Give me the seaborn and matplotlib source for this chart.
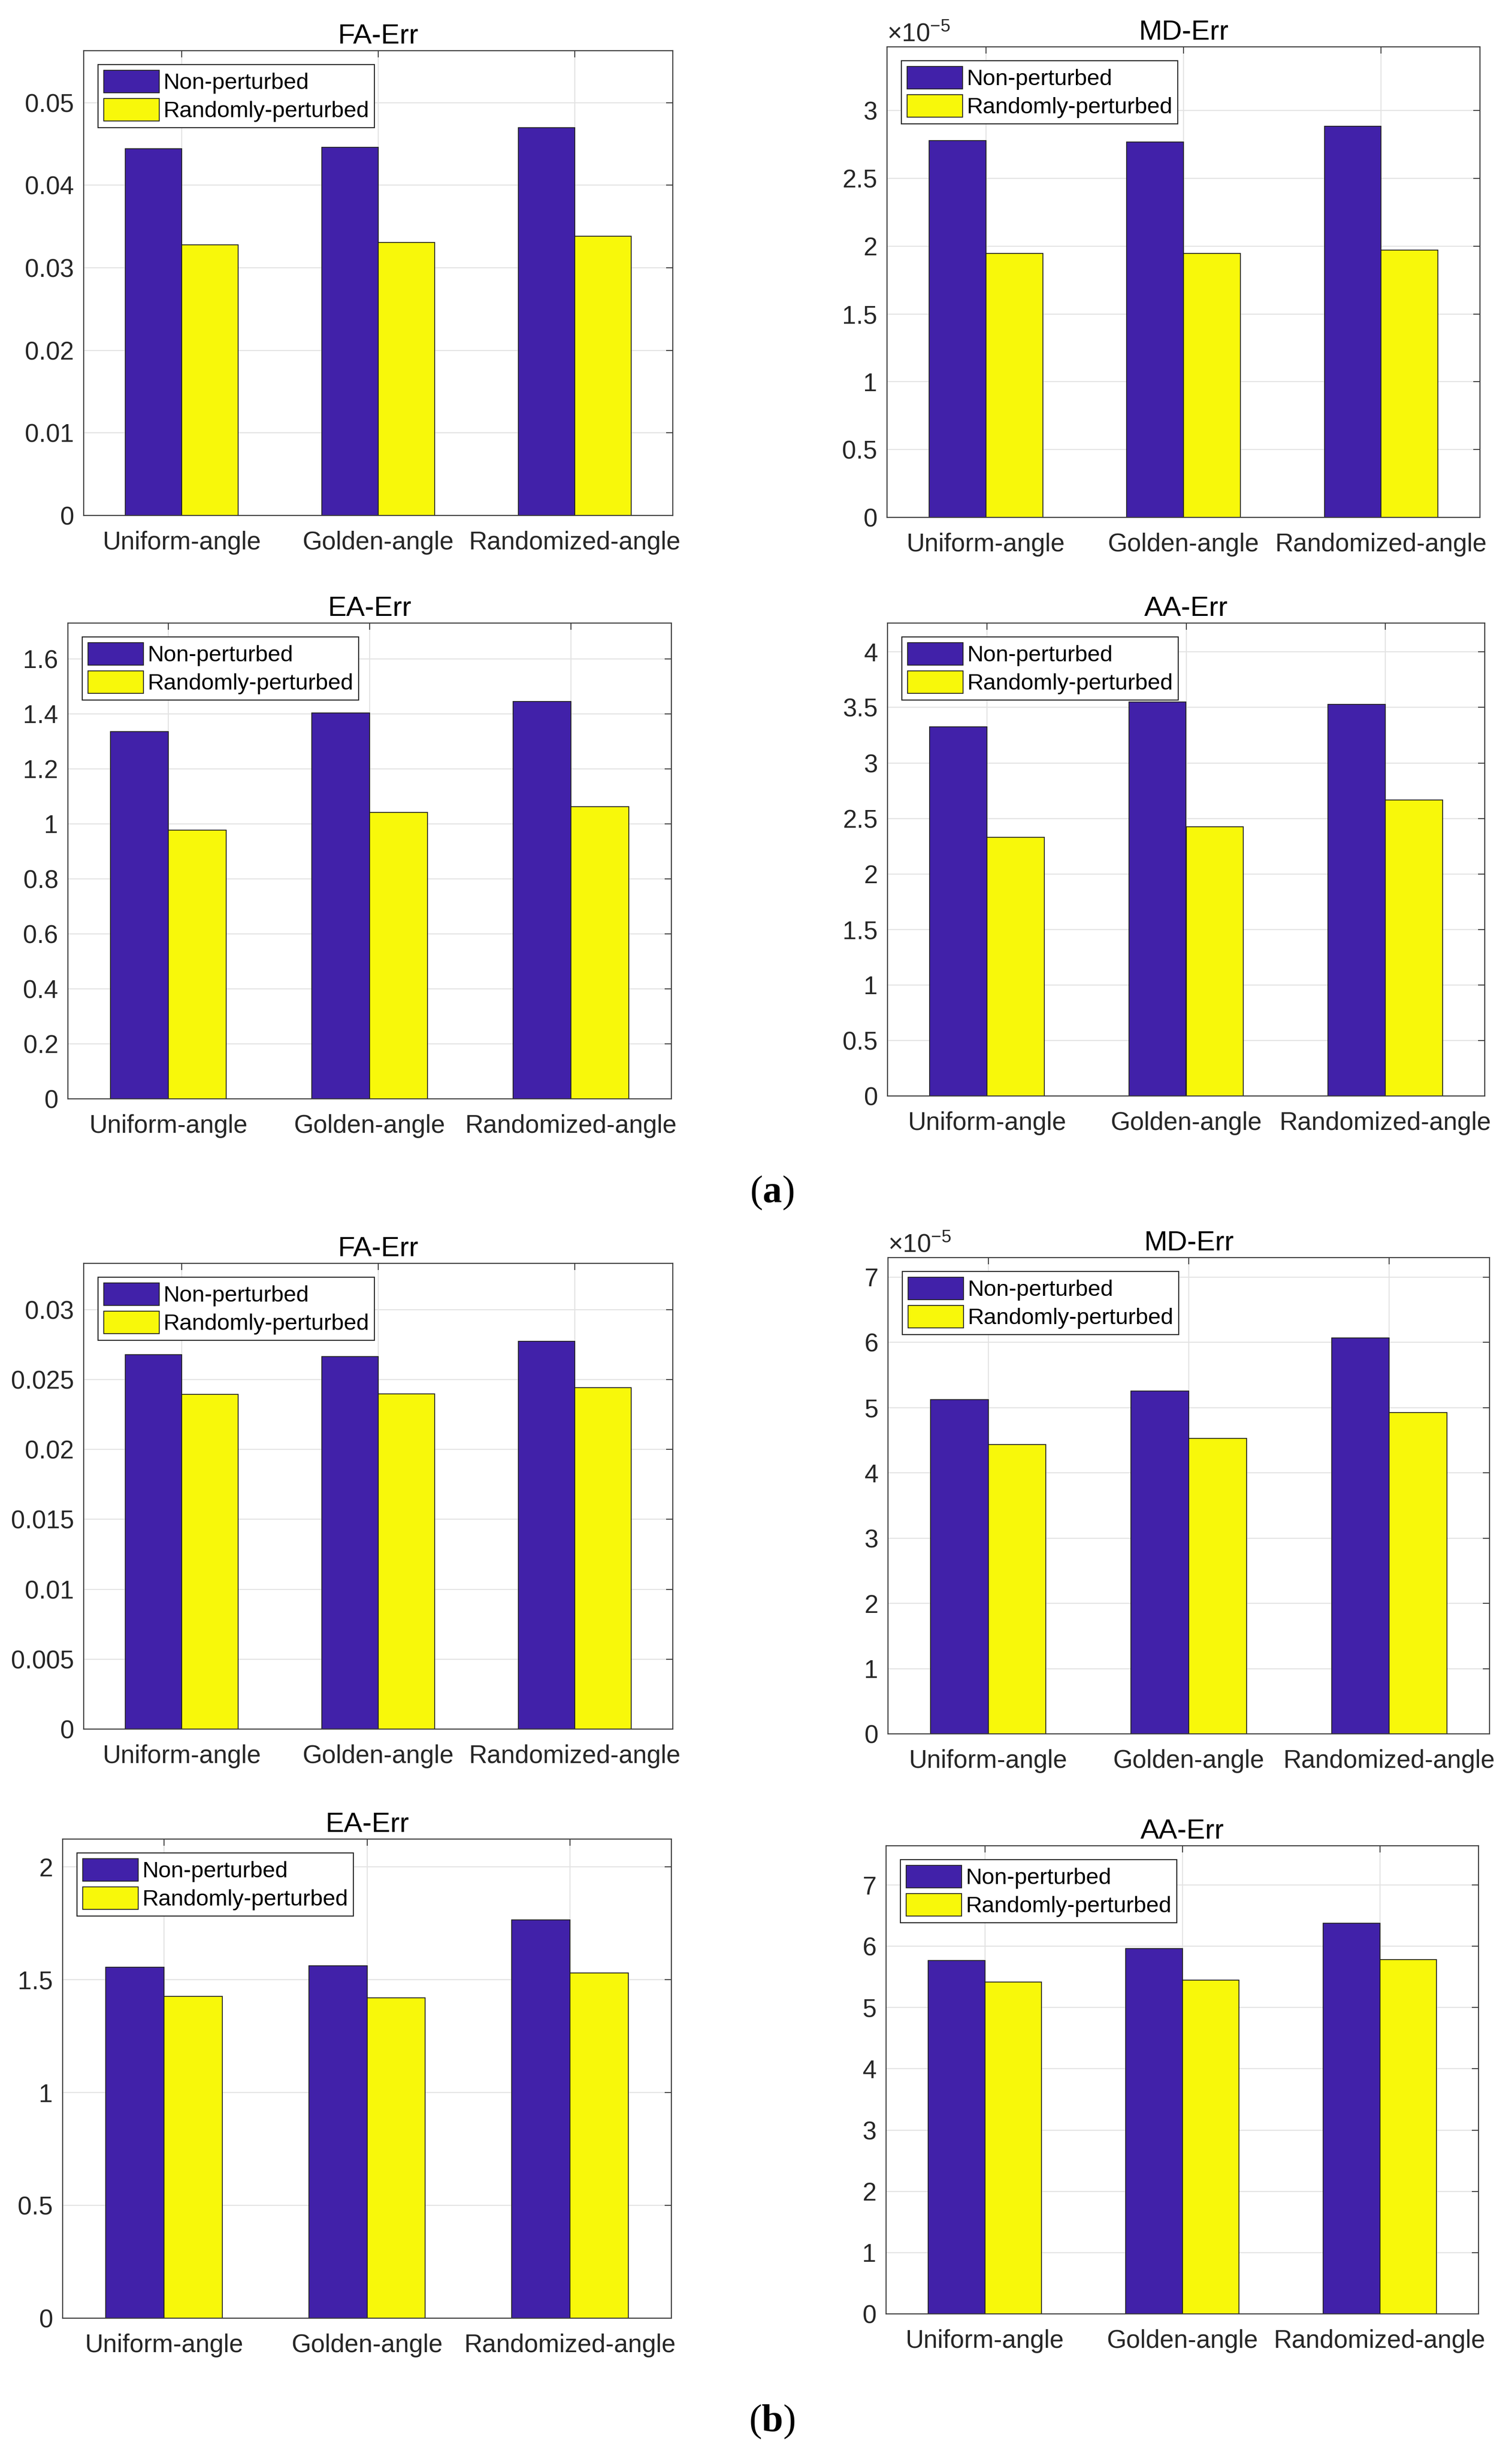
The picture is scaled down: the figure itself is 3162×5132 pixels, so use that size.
import numpy as np
import pandas as pd
import matplotlib
matplotlib.use("Agg")
import matplotlib.pyplot as plt
import seaborn as sns
from matplotlib.patches import Patch
from matplotlib.ticker import FuncFormatter

# ---------------- data ----------------
categories = ["Uniform-angle", "Golden-angle", "Randomized-angle"]
series = ["Non-perturbed", "Randomly-perturbed"]

a_fa_non = [0.0444, 0.0446, 0.0470]
a_fa_rnd = [0.0328, 0.0331, 0.0338]
a_md_non = [2.778e-5, 2.770e-5, 2.886e-5]
a_md_rnd = [1.946e-5, 1.946e-5, 1.970e-5]
a_ea_non = [1.335, 1.403, 1.445]
a_ea_rnd = [0.977, 1.042, 1.063]
a_aa_non = [3.327, 3.548, 3.527]
a_aa_rnd = [2.330, 2.423, 2.668]

b_fa_non = [0.02677, 0.02664, 0.02772]
b_fa_rnd = [0.02393, 0.02398, 0.02440]
b_md_non = [5.123e-5, 5.253e-5, 6.070e-5]
b_md_rnd = [4.436e-5, 4.531e-5, 4.926e-5]
b_ea_non = [1.555, 1.561, 1.765]
b_ea_rnd = [1.425, 1.419, 1.529]
b_aa_non = [5.769, 5.963, 6.378]
b_aa_rnd = [5.416, 5.444, 5.783]

titles = ["FA-Err", "MD-Err", "EA-Err", "AA-Err"]
fa_a_ticks = [0, 0.01, 0.02, 0.03, 0.04, 0.05]
md_a_ticks = [0, 0.5e-5, 1e-5, 1.5e-5, 2e-5, 2.5e-5, 3e-5]
ea_a_ticks = [0, 0.2, 0.4, 0.6, 0.8, 1.0, 1.2, 1.4, 1.6]
aa_a_ticks = [0, 0.5, 1, 1.5, 2, 2.5, 3, 3.5, 4]
fa_b_ticks = [0, 0.005, 0.01, 0.015, 0.02, 0.025, 0.03]
md_b_ticks = [0, 1e-5, 2e-5, 3e-5, 4e-5, 5e-5, 6e-5, 7e-5]
ea_b_ticks = [0, 0.5, 1, 1.5, 2]
aa_b_ticks = [0, 1, 2, 3, 4, 5, 6, 7]

# ---------------- style ----------------
sns.set_theme(style="white")
plt.rcParams['font.family'] = ['Liberation Sans', 'DejaVu Sans']
plt.rcParams['mathtext.fontset'] = 'custom'
plt.rcParams['mathtext.rm'] = 'Liberation Sans'
plt.rcParams['mathtext.it'] = 'Liberation Sans:italic'
plt.rcParams['mathtext.bf'] = 'Liberation Serif:bold'

BLUE = '#4121A9'
YELLOW = '#F8F80A'
AXC = '#3a3a3a'
TXT = '#262626'

W, H = 3162, 5132
DPI = 100
fig = plt.figure(figsize=(W / DPI, H / DPI), dpi=DPI)
fig.patch.set_facecolor('white')

# panel rectangles in pixels: left, right, top, bottom
panels = [
    ("FA-Err", a_fa_non, a_fa_rnd, 0.0563, fa_a_ticks, 1.0, (175, 1407, 106, 1078)),
    ("MD-Err", a_md_non, a_md_rnd, 3.47e-5, md_a_ticks, 1e-5, (1855, 3095, 98, 1082)),
    ("EA-Err", a_ea_non, a_ea_rnd, 1.73, ea_a_ticks, 1.0, (142, 1404, 1303, 2298)),
    ("AA-Err", a_aa_non, a_aa_rnd, 4.26, aa_a_ticks, 1.0, (1856, 3105, 1303, 2292)),
    ("FA-Err", b_fa_non, b_fa_rnd, 0.0333, fa_b_ticks, 1.0, (175, 1407, 2642, 3616)),
    ("MD-Err", b_md_non, b_md_rnd, 7.3e-5, md_b_ticks, 1e-5, (1857, 3115, 2630, 3626)),
    ("EA-Err", b_ea_non, b_ea_rnd, 2.123, ea_b_ticks, 1.0, (131, 1404, 3846, 4848)),
    ("AA-Err", b_aa_non, b_aa_rnd, 7.64, aa_b_ticks, 1.0, (1853, 3092, 3860, 4839)),
]

for title, non, rnd, ytop, ticks, scale, (L, R, T, B) in panels:
    ax = fig.add_axes([L / W, 1 - B / H, (R - L) / W, (B - T) / H])
    df = pd.DataFrame({
        "category": categories * 2,
        "series": [series[0]] * 3 + [series[1]] * 3,
        "value": list(non) + list(rnd),
    })
    sns.barplot(data=df, x="category", y="value", hue="series",
                order=categories, hue_order=series,
                palette=[BLUE, YELLOW], saturation=1, width=0.575, gap=0,
                edgecolor='#202020', linewidth=1.3, errorbar=None,
                legend=False, ax=ax)
    ax.set_xlim(-0.5, 2.5)
    ax.set_ylim(0, ytop)
    ax.set_xticks(range(len(categories)))
    ax.set_xticklabels(categories)
    ax.set_yticks(ticks)
    ax.yaxis.set_major_formatter(FuncFormatter(lambda v, p, s=scale: f"{round(v / s, 6):g}"))
    ax.set_xlabel("")
    ax.set_ylabel("")
    ax.set_axisbelow(True)
    ax.grid(True, axis='both', color='#E3E3E3', linewidth=1.6)
    for sp in ax.spines.values():
        sp.set_visible(True)
        sp.set_color(AXC)
        sp.set_linewidth(1.6)
    ax.tick_params(axis='both', direction='in', length=10, width=1.4, color=AXC,
                   top=True, right=True, labelsize=38, labelcolor=TXT)
    ax.tick_params(axis='y', pad=14.5)
    ax.tick_params(axis='x', pad=23)
    ax.set_title(title, fontsize=42, pad=11, color='black')

    if scale != 1.0:
        t = ax.text(0, 1, '×10$^{-5}$', transform=ax.transAxes, ha='left', va='baseline',
                    fontsize=38, color=TXT)
        t.set_position((0.0, 1.0 + 12 / (B - T)))

    axw, axh = R - L, B - T
    handles = [Patch(facecolor=BLUE, edgecolor='#202020', linewidth=1.3, label=series[0]),
               Patch(facecolor=YELLOW, edgecolor='#202020', linewidth=1.3, label=series[1])]
    leg = ax.legend(handles=handles, loc='upper left',
                    bbox_to_anchor=(30 / axw, 1 - 29 / axh), borderaxespad=0,
                    fontsize=34, frameon=True, fancybox=False, framealpha=1,
                    edgecolor=TXT, handlelength=2.45, handleheight=1.15,
                    handletextpad=0.18, borderpad=0.25, labelspacing=0.2)
    leg.get_frame().set_linewidth(1.6)
    for tx in leg.get_texts():
        tx.set_color('black')

# sub-figure labels
for lab, cy in (("a", 2495), ("b", 5065)):
    fig.text(1614 / W, 1 - cy / H, "(" + r"$\mathbf{" + lab + "}$" + ")",
             ha='center', va='center', fontsize=58, family='Liberation Serif',
             color='black')

fig.savefig("out.png", dpi=DPI, facecolor='white')
